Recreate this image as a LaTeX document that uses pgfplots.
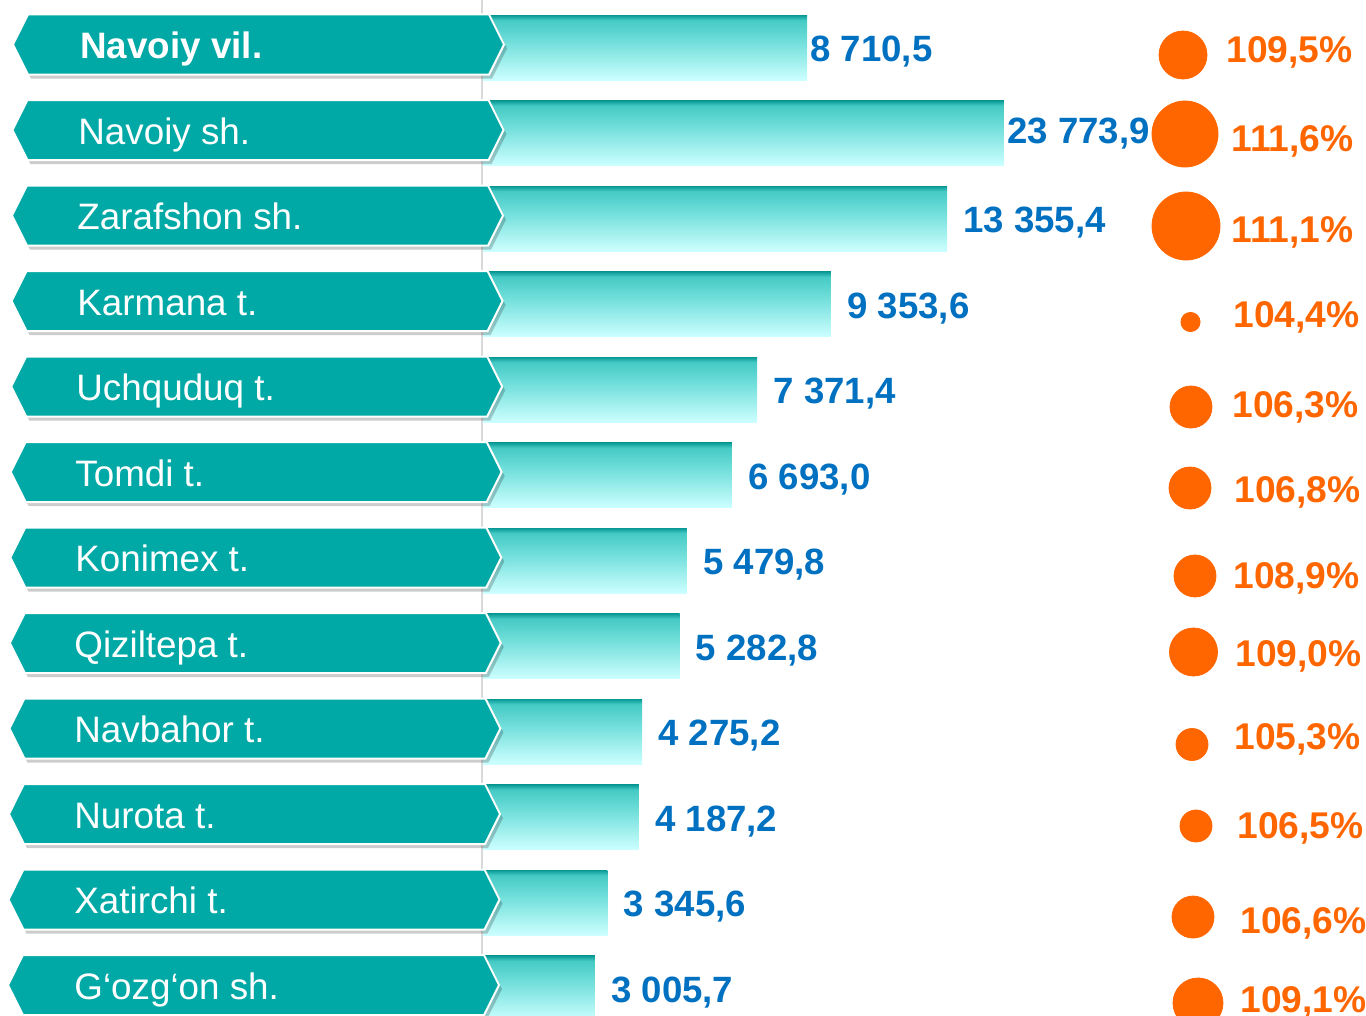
\documentclass[border=0pt]{standalone}
\usepackage{fontspec}
\setmainfont{Liberation Sans}
\usepackage{pgfplots}
\pgfplotsset{compat=1.18}
\usetikzlibrary{shadows}
\definecolor{tagc}{HTML}{00A9A5}
\definecolor{valc}{HTML}{0070C0}
\definecolor{orc}{HTML}{FF6600}
\definecolor{bLight}{HTML}{CCFFFF}
\definecolor{bMid}{HTML}{70DEDA}
\definecolor{bMid2}{HTML}{45CAC5}
\definecolor{bDark}{HTML}{089894}
\pgfdeclareverticalshading{barshade}{100bp}{color(0bp)=(bLight); color(25bp)=(bLight); color(55bp)=(bMid); color(71bp)=(bMid2); color(75bp)=(bDark); color(100bp)=(bDark)}

\newcommand{\tagrow}[4]{%
  \draw[white, line width=1bp, fill=tagc,
        drop shadow={shadow xshift=1.5bp, shadow yshift=-2bp, opacity=0.2, fill=black}]
   (axis cs:13-#2,#1-0.035) -- (axis cs:28-#2,#1-0.386) -- (axis cs:489-#2,#1-0.386)
   -- (axis cs:504-#2,#1-0.035) -- (axis cs:489-#2,#1+0.316) -- (axis cs:28-#2,#1+0.316) -- cycle;
  \node[anchor=base west, text=white, inner sep=0pt, font=\fontsize{18.4bp}{22bp}\selectfont]
   at (axis cs:#3,#1+0.13) {#4};
}
% one bar per plot so that each bar gets its own gradient
\newcommand{\onebar}[4]{%
  \addplot[draw=none, shade, shading=barshade,
    every node near coord/.append style={xshift=#3, yshift=#4}]
    coordinates {(#1,#2) [#1]};
}
\newcommand{\onecirc}[3]{%
  \addplot[only marks, mark=*, mark size=#3bp, draw=orc, fill=orc] coordinates {(#1,#2)};
}

\begin{document}
\begin{tikzpicture}
\useasboundingbox (0,0) rectangle (683bp,508bp);
\clip (0,0) rectangle (683bp,508bp);

% ---------- bars ----------
\begin{axis}[
  at={(241.5bp,0)}, anchor=south west,
  scale only axis, width=223.2bp, height=508bp,
  xmin=0, xmax=12000, ymin=0.44444, ymax=12.32749,
  y dir=reverse, hide axis, clip=false,
  xbar, bar width=32.5bp, bar shift=0pt,
  x coord trafo/.code={%
    \begingroup
    \pgfkeys{/pgf/fpu=true,/pgf/fpu/output format=fixed}%
    \pgfmathparse{min(#1,12321)+max(#1-12321,0)*0.147}%
    \global\let\mytrafores\pgfmathresult
    \endgroup
    \let\pgfmathresult\mytrafores},
  point meta=explicit,
  nodes near coords={\pgfmathprintnumber[fixed, fixed zerofill, precision=1, use comma, 1000 sep={\ }, assume math mode=true]{\pgfplotspointmeta}},
  every node near coord/.append style={anchor=base west, inner sep=0pt, text=valc, font=\bfseries\fontsize{18.3bp}{22bp}\selectfont},
]
\onebar{8710.5}{1}{1.5bp}{-7bp}
\onebar{23773.9}{2}{1.5bp}{-5bp}
\onebar{13355.4}{3}{8bp}{-7bp}
\onebar{9353.6}{4}{8bp}{-7bp}
\onebar{7371.4}{5}{8bp}{-7bp}
\onebar{6693.0}{6}{8bp}{-7bp}
\onebar{5479.8}{7}{8bp}{-7bp}
\onebar{5282.8}{8}{8bp}{-7bp}
\onebar{4275.2}{9}{8bp}{-7bp}
\onebar{4187.2}{10}{8bp}{-7bp}
\onebar{3345.6}{11}{8bp}{-7bp}
\onebar{3005.7}{12}{8bp}{-7bp}
\end{axis}

% ---------- tags, circles, percentages ----------
\begin{axis}[
  at={(0,0)}, anchor=south west,
  scale only axis, width=683bp, height=508bp,
  xmin=0, xmax=1366, ymin=0.44444, ymax=12.32749,
  y dir=reverse, hide axis, clip=false,
]
\draw[black!15, line width=0.7bp] (axis cs:482,0.44444) -- (axis cs:482,12.32749);
\tagrow{1}{0}{80}{\bfseries Navoiy vil.}
\tagrow{2}{0.5}{78}{Navoiy sh.}
\tagrow{3}{1}{77}{Zarafshon sh.}
\tagrow{4}{1.4}{77}{Karmana t.}
\tagrow{5}{1.8}{76}{Uchquduq t.}
\tagrow{6}{2.3}{75}{Tomdi t.}
\tagrow{7}{2.7}{75}{Konimex t.}
\tagrow{8}{3.2}{74}{Qiziltepa t.}
\tagrow{9}{3.6}{74}{Navbahor t.}
\tagrow{10}{4}{74}{Nurota t.}
\tagrow{11}{4.5}{74}{Xatirchi t.}
\tagrow{12}{5}{74}{G‘ozg‘on sh.}

\onecirc{1183}{1.0877}{12}
\onecirc{1185}{2.0117}{16.5}
\onecirc{1186}{3.0877}{17}
\onecirc{1190.5}{4.2105}{4.8}
\onecirc{1191}{5.2047}{10.5}
\onecirc{1190}{6.1520}{10.5}
\onecirc{1195}{7.1810}{10.5}
\onecirc{1193.5}{8.0700}{12}
\onecirc{1192}{9.1520}{8}
\onecirc{1196}{10.1050}{8}
\onecirc{1193}{11.1700}{10.5}
\onecirc{1198}{12.1750}{12.5}

\addplot[draw=none, mark=none, point meta=explicit,
  nodes near coords={\pgfmathprintnumber[fixed, fixed zerofill, precision=1, use comma, assume math mode=true]{\pgfplotspointmeta}\%},
  every node near coord/.append style={anchor=base west, inner sep=0pt, text=orc, font=\bfseries\fontsize{18.6bp}{22bp}\selectfont},
] coordinates {
(1226,1.181) [109.5]
(1231,2.220) [111.6]
(1231,3.275) [111.1]
(1233,4.269) [104.4]
(1232,5.333) [106.3]
(1234,6.316) [106.8]
(1233,7.322) [108.9]
(1235,8.234) [109.0]
(1234,9.216) [105.3]
(1237,10.246) [106.5]
(1240,11.357) [106.6]
(1240,12.292) [109.1]
};
\end{axis}
\end{tikzpicture}
\end{document}
